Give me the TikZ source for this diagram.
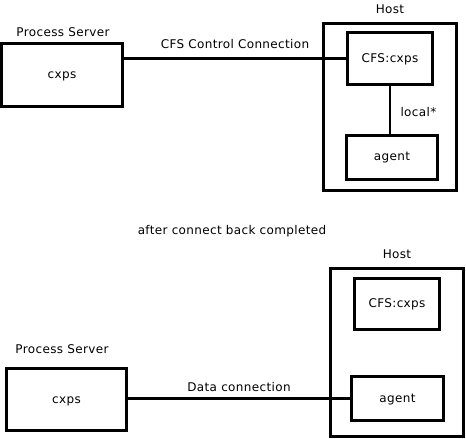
\documentclass[tikz,border=0pt]{standalone}
\usepackage{fontspec}
\setmainfont[LetterSpace=3]{DejaVu Sans}
\usepackage{tikz}

\begin{document}
\begin{tikzpicture}[x=1pt,y=-1pt,font=\fontsize{12}{14}\selectfont]

  \tikzstyle{box}=[draw=black,line width=3pt,inner sep=0pt,text height=9.5pt,text depth=2.5pt]
  \tikzstyle{link}=[draw=black,line width=2.4pt]
  \tikzstyle{tag}=[inner sep=0pt,anchor=base]

  \useasboundingbox (0,0) rectangle (466,439);

  % before connect back
  \node[box,minimum width=121pt,minimum height=63pt] (0) at (62,75)    {cxps};
  \node[box,minimum width=133pt,minimum height=167pt] (1) at (390,107) {};
  \node[box,minimum width=85pt,minimum height=52pt]  (2) at (390,58.5) {CFS:cxps};
  \node[box,minimum width=91.5pt,minimum height=44pt] (3) at (392,157) {agent};

  \node[tag] (t0) at (63,36.5) {Process Server};
  \node[tag] (t1) at (390,13)  {Host};

  \path (2) edge[link] node[above=5.5pt] {CFS Control Connection} (2.west -| 0.east)
        (2) edge[link] node[right=6pt,yshift=-2.5pt] {local*} (2.south |- 3.north)
  ;

  \node[tag] (t2) at (232,234) {after connect back completed};

  % after connect back
  \node[box,minimum width=120pt,minimum height=62pt] (4) at (66.5,399.5) {cxps};
  \node[box,minimum width=133pt,minimum height=168pt] (5) at (397,352.5) {};
  \node[box,minimum width=85pt,minimum height=51pt]  (6) at (397,304)   {CFS:cxps};
  \node[box,minimum width=92pt,minimum height=44pt]  (7) at (397.5,398.5) {agent};

  \node[tag] (t3) at (62,353)  {Process Server};
  \node[tag] (t4) at (397,258) {Host};

  \path (7) edge[link] node[above=2.5pt] {Data connection} (7.west -| 4.east)
  ;
\end{tikzpicture}
\end{document}
